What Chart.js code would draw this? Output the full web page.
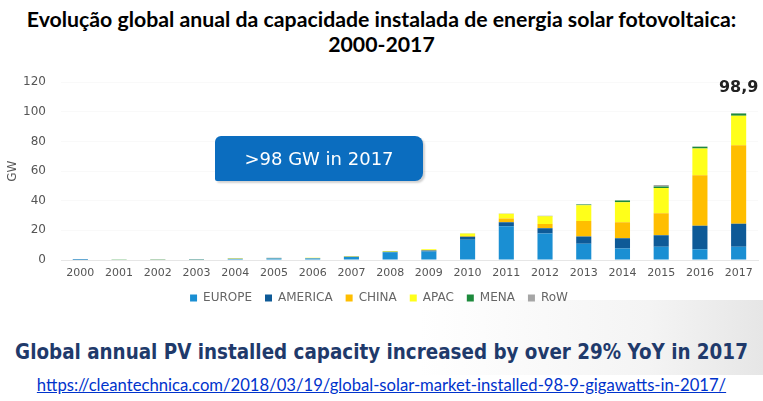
<!DOCTYPE html>
<html>
<head>
<meta charset="utf-8">
<script src="https://cdn.jsdelivr.net/npm/chart.js@4.4.1/dist/chart.umd.min.js"></script>
<style>
  html, body { margin:0; padding:0; background:#fff; }
  body { width:763px; height:401px; position:relative; overflow:hidden; }
  #bg { position:absolute; left:0; top:300px; width:763px; height:75px;
        background:linear-gradient(90deg,#ffffff 0%,#ffffff 55%,#f4f4f4 85%,#e6e6e6 100%); }
  #title { position:absolute; left:0; top:7px; width:763px; text-align:center;
           font-family:Lato, sans-serif; font-weight:bold; color:#000; line-height:25px; }
  #title div { white-space:nowrap; }
  #wrap { position:absolute; left:0; top:60px; width:763px; height:254px; }
  #box { position:absolute; left:215px; top:136px; width:208px; height:45px; background:#0b6dbf;
         border-radius:6px 8px 8px 2px; box-shadow:2px 2px 2px rgba(0,0,0,0.18);
         color:#fff; font-family:"DejaVu Sans", sans-serif; font-size:18px; line-height:45px; text-align:center; }
  #banner { position:absolute; left:0; top:340px; width:763px; text-align:center; white-space:nowrap;
            font-family:"DejaVu Sans Condensed","DejaVu Sans", sans-serif; font-weight:bold; color:#1f3a6b; font-size:20px; }
  #url { position:absolute; left:0; top:375px; width:763px; text-align:center; white-space:nowrap;
         font-family:Lato, sans-serif; color:#0033cc; text-decoration:underline; font-size:16px; }
</style>
</head>
<body>
<div id="bg"></div>
<div id="title"><div id="t1" data-w="710">Evolução global anual da capacidade instalada de energia solar fotovoltaica:</div><div id="t2">2000-2017</div></div>
<div id="wrap"><canvas id="c"></canvas></div>
<div id="box">&gt;98 GW in 2017</div>
<div id="banner" data-w="733">Global annual PV installed capacity increased by over 29% YoY in 2017</div>
<div id="url" data-w="690">https://cleantechnica.com/2018/03/19/global-solar-market-installed-98-9-gigawatts-in-2017/</div>
<script>
const years = ['2000','2001','2002','2003','2004','2005','2006','2007','2008','2009','2010','2011','2012','2013','2014','2015','2016','2017'];
const europe  = [0.06,0.10,0.14,0.20,0.70,1.00,1.00,2.00,5.20,5.80,13.6,22.8,17.9,10.9,7.7,8.9,7.2,9.0];
const america = [0.03,0.03,0.06,0.07,0.10,0.12,0.15,0.25,0.40,0.60,2.1,2.6,3.6,4.9,7.0,7.8,16.0,15.5];
const china   = [0,0,0,0,0,0,0,0.02,0.05,0.20,0.5,2.6,2.8,10.6,10.8,14.9,34.0,53.0];
const apac    = [0.12,0.14,0.19,0.24,0.30,0.30,0.30,0.30,0.40,0.60,1.7,3.2,5.3,10.5,13.4,17.0,18.0,19.8];
const mena    = [0,0,0,0,0,0,0,0,0,0,0,0,0.1,0.6,1.3,1.0,1.3,1.6];
const row     = [0.05,0.05,0.05,0.07,0.03,0.03,0.10,0.10,0.10,0.10,0.1,0.1,0.1,0.1,0.1,1.0,0.1,0.1];
const yTicks  = [0,20,40,60,80,100,120];
const seriesNames = ['EUROPE','AMERICA','CHINA','APAC','MENA','RoW'];
const topLabel = '98,9';

// fit text widths
document.querySelectorAll('[data-w]').forEach(el => {
  const target = +el.dataset.w;
  const span = document.createElement('span');
  span.textContent = el.textContent;
  span.style.whiteSpace = 'nowrap';
  el.textContent = '';
  el.appendChild(span);
  const fs = parseFloat(getComputedStyle(el).fontSize);
  const w = span.getBoundingClientRect().width;
  el.style.fontSize = (fs * target / w) + 'px';
});
document.getElementById('t2').style.fontSize = document.getElementById('t1').style.fontSize;

const colors = ['#1a8fd3','#0e5a97','#ffbe00','#ffff1a','#1d8a3c','#a6a6a6'];
const data = [europe, america, china, apac, mena, row];

const labelPlugin = {
  id:'topLabel',
  afterDatasetsDraw(chart){
    const {ctx, scales:{x,y}} = chart;
    const i = years.length - 1;
    let sum = 0; data.forEach(d => sum += d[i]);
    ctx.save();
    ctx.font = 'bold 16px "DejaVu Sans", sans-serif';
    ctx.fillStyle = '#222';
    ctx.textAlign = 'center';
    ctx.textBaseline = 'middle';
    ctx.fillText(topLabel, x.getPixelForValue(i), y.getPixelForValue(sum) - 25);
    ctx.restore();
  }
};

new Chart(document.getElementById('c'), {
  type:'bar',
  data:{
    labels: years,
    datasets: seriesNames.map((n,k) => ({
      label:n, data:data[k], backgroundColor:colors[k], borderWidth:0,
      barPercentage:0.39, categoryPercentage:1
    }))
  },
  options:{
    responsive:true, maintainAspectRatio:false, animation:false,
    layout:{ padding:{ top:10, right:5, left:0, bottom:0 } },
    plugins:{
      tooltip:{enabled:false},
      legend:{
        position:'bottom',
        labels:{ boxWidth:7, boxHeight:7, padding:13, color:'#666',
                 font:{ family:'"DejaVu Sans", sans-serif', size:12 } }
      }
    },
    scales:{
      x:{
        stacked:true,
        grid:{ display:false, drawTicks:false },
        border:{ display:true, color:'#e6e6e6' },
        ticks:{ color:'#555', padding:7, maxRotation:0, autoSkip:false,
                font:{ family:'"DejaVu Sans", sans-serif', size:11 } },
        afterFit(s){ s.height = 19; }
      },
      y:{
        stacked:true, min:0, max:120,
        afterBuildTicks(s){ s.ticks = yTicks.map(v => ({value:v})); },
        grid:{ color:'rgba(0,0,0,0.025)', drawTicks:false },
        border:{ display:false },
        ticks:{ color:'#555', padding:15, font:{ family:'"DejaVu Sans", sans-serif', size:12 } },
        title:{ display:true, text:'GW', color:'#555', padding:{top:6,bottom:0},
                font:{ family:'"DejaVu Sans", sans-serif', size:12 } },
        afterFit(s){ s.width = 61; }
      }
    }
  },
  plugins:[labelPlugin]
});
</script>
</body>
</html>
